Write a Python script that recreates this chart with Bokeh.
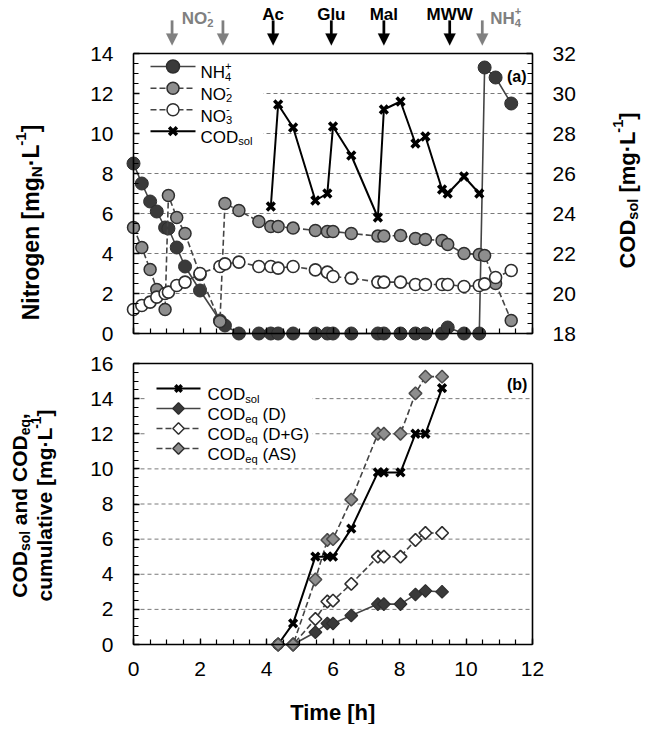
import math
from bokeh.plotting import figure
from bokeh.models import (Range1d, LinearAxis, SingleIntervalTicker, FixedTicker, Label,
                          PolyAnnotation, BoxAnnotation)
from bokeh.layouts import column
from bokeh.embed import file_html
from bokeh.resources import INLINE

FONT = "Liberation Sans"

# ---------------- data: panel (a) ----------------
t_n = [0, 0.25, 0.5, 0.7, 0.95, 1.05, 1.3, 1.55, 2.0, 2.6, 2.75, 3.17, 3.77, 4.13, 4.35, 4.8,
       5.47, 5.83, 6.0, 6.55, 7.35, 7.53, 8.03, 8.48, 8.78, 9.28, 9.45, 9.94, 10.4, 10.56,
       10.89, 11.36]
nh4 = [8.5, 7.5, 6.6, 6.1, 5.3, 5.25, 4.3, 3.35, 2.15, 0.65, 0.4, 0, 0, 0, 0, 0,
       0, 0, 0, 0, 0, 0, 0, 0, 0, 0, 0.3, 0, 0, 13.3, 12.8, 11.5]
no2 = [5.3, 4.3, 3.2, 2.2, 1.2, 6.9, 5.8, 5.0, 2.95, 0.6, 6.5, 6.15, 5.6, 5.35, 5.35, 5.27,
       5.15, 5.1, 5.1, 5.0, 4.87, 4.87, 4.9, 4.75, 4.7, 4.65, 4.45, 4.0, 3.95, 3.9, 2.5, 0.65]
no3 = [1.2, 1.4, 1.57, 1.82, 2.0, 2.07, 2.4, 2.57, 3.0, 3.35, 3.48, 3.57, 3.35, 3.35, 3.27, 3.35,
       3.18, 3.07, 2.85, 2.77, 2.57, 2.57, 2.57, 2.45, 2.45, 2.45, 2.45, 2.35, 2.4, 2.48, 2.8, 3.15]
t_cod = [4.13, 4.35, 4.8, 5.47, 5.83, 6.0, 6.55, 7.35, 7.53, 8.03, 8.48, 8.78, 9.28, 9.45, 9.94, 10.4]
cod_sol = [24.35, 29.45, 28.3, 24.65, 25.0, 28.35, 26.9, 23.8, 29.2, 29.6, 27.5, 27.85,
           25.2, 25.0, 25.85, 25.0]

# events marked above panel (a)
nitrite_spikes = [1.16, 2.69]
substrate_t = [4.2, 5.95, 7.53, 9.51]
substrate_names = ["Ac", "Glu", "Mal", "MWW"]
ammonium_spike = [10.49]

# ---------------- data: panel (b) ----------------
t_cum = [4.35, 4.8, 5.47, 5.83, 6.0, 6.55, 7.35, 7.53, 8.03, 8.48, 8.78, 9.28]
cum_sol = [0, 1.2, 5.0, 5.0, 5.0, 6.6, 9.8, 9.8, 9.8, 12.0, 12.0, 14.6]
cum_d = [0, 0, 0.7, 1.2, 1.2, 1.65, 2.3, 2.3, 2.3, 2.85, 3.05, 3.0]
cum_dg = [0, 0, 1.45, 2.45, 2.5, 3.45, 5.0, 5.0, 5.0, 5.95, 6.35, 6.35]
cum_as = [0, 0, 3.7, 5.95, 6.0, 8.25, 12.0, 12.0, 12.0, 14.3, 15.25, 15.25]

x_lim = (0, 12)
n_lim_a = (0, 14)
cod_lim_a = (18, 32)
cum_lim_b = (0, 16)
grid_a = [2, 4, 6, 8, 10, 12]
grid_b = [2, 4, 6, 8, 10, 12, 14]

# ---------------- styles / layout constants ----------------
DARK = "#3a3a3a"
MID = "#8e8e8e"
EDGE = "#2e2e2e"
GRAYTXT = "#808080"
W = 645
H1, H2 = 348, 376
FL, FR = 133, 532            # frame left / right (px)
A_TOP, A_BOT = 53, 333       # panel (a) frame, canvas px
B_TOP, B_BOT = 15, 296       # panel (b) frame, canvas px
SX = (FR - FL) / 12.0
SYA = (A_BOT - A_TOP) / 14.0
SYB = (B_BOT - B_TOP) / 16.0

WR = {' ': 278, '(': 333, ')': 333, '+': 584, ',': 278, '-': 333, '.': 278, '\u00b7': 278,
      '[': 278, ']': 278, 'A': 667, 'C': 722, 'D': 722, 'G': 778, 'H': 722, 'L': 556,
      'M': 833, 'N': 722, 'O': 778, 'S': 667, 'T': 611, 'W': 944, 'a': 556, 'c': 500,
      'd': 556, 'e': 556, 'g': 556, 'h': 556, 'i': 222, 'l': 222, 'm': 833, 'n': 556,
      'o': 556, 'q': 556, 'r': 333, 's': 500, 't': 278, 'u': 556, 'v': 500}
WB = {' ': 278, '(': 333, ')': 333, '+': 584, ',': 278, '-': 333, '.': 278, '\u00b7': 278,
      '[': 333, ']': 333, 'A': 722, 'C': 722, 'D': 722, 'G': 778, 'H': 722, 'L': 611,
      'M': 833, 'N': 722, 'O': 778, 'S': 667, 'T': 611, 'W': 944, 'a': 556, 'c': 556,
      'd': 611, 'e': 556, 'g': 611, 'h': 611, 'i': 278, 'l': 278, 'm': 889, 'n': 611,
      'o': 611, 'q': 611, 'r': 389, 's': 556, 't': 333, 'u': 611, 'v': 556}


def conv_top(cx, cy):
    return (cx - FL) / SX, (A_BOT - cy) / SYA


def conv_bot(cx, cy):
    return (cx - FL) / SX, (B_BOT - cy) / SYB


def rich(fig, segs, cx, cy, size, bold=False, color="black", rotate=False, align="left"):
    """Place text pieces (normal / sub / sup) at canvas pixel positions."""
    table = WB if bold else WR
    small = size * 0.66

    def w(t, s):
        return sum(table.get(c, 556) for c in t) / 1000.0 * s

    items = []
    pos = 0.0
    for seg in segs:
        kind = seg[0]
        if kind == "n":
            txt = seg[1]
            lead = len(txt) - len(txt.lstrip(" "))
            pos += w(" " * lead, size)
            txt = txt.lstrip(" ")
            items.append((txt, size, pos, 0.0))
            pos += w(txt, size)
        elif kind == "sub":
            items.append((seg[1], small, pos, 0.24 * size))
            pos += w(seg[1], small)
        elif kind == "sup":
            items.append((seg[1], small, pos, -0.42 * size))
            pos += w(seg[1], small)
        elif kind == "stack":
            items.append((seg[1], small, pos, 0.24 * size))
            items.append((seg[2], small, pos, -0.42 * size))
            pos += max(w(seg[1], small), w(seg[2], small))
    total = pos
    shift = 0.0 if align == "left" else (-total / 2 if align == "center" else -total)
    for text, fs, along, perp in items:
        a = along + shift
        if rotate:
            px, py = cx + perp, cy - a
        else:
            px, py = cx + a, cy + perp
        fig.add_layout(Label(x=px, y=py, x_units="canvas", y_units="canvas", text=text,
                             angle=(math.pi / 2 if rotate else 0.0),
                             text_font=FONT, text_font_size="%.1fpx" % fs,
                             text_font_style="bold" if bold else "normal",
                             text_color=color, text_align="left",
                             text_baseline="alphabetic"))


def style_axis(ax, standoff, ticks=True):
    ax.axis_line_width = 1.6
    ax.axis_line_color = "black"
    ax.major_tick_in = 6 if ticks else 0
    ax.major_tick_out = 0
    ax.minor_tick_in = 5 if ticks else 0
    ax.minor_tick_out = 0
    ax.major_tick_line_width = 1.3
    ax.minor_tick_line_width = 1.2
    ax.major_tick_line_color = "black"
    ax.minor_tick_line_color = "black"
    ax.major_label_text_font = FONT
    ax.major_label_text_font_size = "21px"
    ax.major_label_text_color = "black"
    ax.major_label_standoff = standoff


def make_fig(h, y_bot_px, sy):
    xr = Range1d(-FL / SX, (W - FL) / SX)
    yr = Range1d(-(h - y_bot_px) / sy, y_bot_px / sy)
    p = figure(frame_width=W, frame_height=h, min_border=0, x_range=xr, y_range=yr,
               x_axis_type=None, y_axis_type=None, output_backend="svg",
               toolbar_location=None)
    p.outline_line_color = None
    p.background_fill_color = "white"
    p.border_fill_color = "white"
    return p


def tick_axis(fixed, bounds, labels=True, ticks=True, range_name="default", standoff=20):
    if ticks:
        tk = SingleIntervalTicker(interval=2, num_minor_ticks=4)
    else:
        tk = FixedTicker(ticks=[], minor_ticks=[])
    if range_name != "default":
        ax = LinearAxis(fixed_location=fixed, bounds=bounds, ticker=tk, y_range_name=range_name)
    else:
        ax = LinearAxis(fixed_location=fixed, bounds=bounds, ticker=tk)
    style_axis(ax, standoff, ticks)
    if not labels:
        ax.major_label_overrides = {v: "" for v in range(-2, 40, 2)}
    return ax


# ================= panel (a) =================
p1 = make_fig(H1, A_BOT, SYA)
p1.extra_y_ranges = {"cod": Range1d(p1.y_range.start + 18, p1.y_range.end + 18)}

p1.segment(x0=[x_lim[0]] * len(grid_a), x1=[x_lim[1]] * len(grid_a), y0=grid_a, y1=grid_a,
           line_color="#7a7a7a", line_dash="4 3", line_width=1, level="image")

lx0, ly0 = conv_top(FL, A_TOP)
lx1, ly1 = conv_top(263, 145)
p1.add_layout(BoxAnnotation(left=lx0, right=lx1, top=ly0, bottom=ly1, fill_color="white",
                            fill_alpha=1.0, line_alpha=0, level="underlay"))

p1.add_layout(tick_axis(x_lim[0], n_lim_a, standoff=20), "left")
p1.add_layout(tick_axis(x_lim[1], cod_lim_a, range_name="cod", standoff=20), "right")
p1.add_layout(tick_axis(n_lim_a[0], x_lim, labels=False), "below")
p1.add_layout(tick_axis(n_lim_a[1], x_lim, labels=False, ticks=False), "above")

p1.line(t_n, nh4, line_color="#444444", line_width=1.6)
p1.scatter(t_n, nh4, marker="circle", size=13, fill_color=DARK, line_color=EDGE, line_width=1)
p1.line(t_n, no2, line_color="#444444", line_width=1.6, line_dash="6 3")
p1.scatter(t_n, no2, marker="circle", size=12, fill_color=MID, line_color=EDGE, line_width=1.5)
p1.line(t_n, no3, line_color="#444444", line_width=1.6, line_dash="6 3")
p1.scatter(t_n, no3, marker="circle", size=12, fill_color="white", line_color=EDGE, line_width=1.6)
p1.line(t_cod, cod_sol, line_color="black", line_width=2, y_range_name="cod")
p1.scatter(t_cod, cod_sol, marker="x", size=11, line_color="black", line_width=3.5,
           y_range_name="cod")

# manual legend (a)
leg_a = [
    ([("n", "NH"), ("stack", "4", "+")], dict(dash="solid", marker="circle", fill=DARK, size=13)),
    ([("n", "NO"), ("stack", "2", "-")], dict(dash="6 3", marker="circle", fill=MID, size=12)),
    ([("n", "NO"), ("stack", "3", "-")], dict(dash="6 3", marker="circle", fill="white", size=12)),
    ([("n", "COD"), ("sub", "sol")], dict(dash="solid", marker="x", fill="black", size=11)),
]
rows_a = [66, 87.7, 109.3, 130.7]
for (segs, st), cy in zip(leg_a, rows_a):
    xa, ya = conv_top(150, cy)
    xb, _ = conv_top(195, cy)
    xm, _ = conv_top(172.5, cy)
    col = "black" if st["marker"] == "x" else "#444444"
    p1.line([xa, xb], [ya, ya], line_color=col, line_width=2 if st["marker"] == "x" else 1.6,
            line_dash=st["dash"])
    if st["marker"] == "x":
        p1.scatter([xm], [ya], marker="x", size=st["size"], line_color="black", line_width=3.5)
    else:
        p1.scatter([xm], [ya], marker="circle", size=st["size"], fill_color=st["fill"],
                   line_color=EDGE, line_width=1.5)
    rich(p1, segs, 200, cy + 6.2, 17)

rich(p1, [("n", "(a)")], 526, 76, 16, bold=True, align="right")


# event arrows above panel (a)
def arrow_poly(fig, cx, colr, top=20, tip=45, head_h=12, head_w=12, shaft=2.6):
    base = tip - head_h
    xs = [cx - shaft / 2, cx + shaft / 2, cx + shaft / 2, cx + head_w / 2, cx,
          cx - head_w / 2, cx - shaft / 2]
    ys = [top, top, base, base, tip, base, base]
    fig.add_layout(PolyAnnotation(xs=xs, ys=ys, xs_units="canvas", ys_units="canvas",
                                  fill_color=colr, fill_alpha=1.0, line_color=colr,
                                  line_width=0.5))


for xs_, colr in ([(x, GRAYTXT) for x in nitrite_spikes] + [(x, "black") for x in substrate_t]
                  + [(x, GRAYTXT) for x in ammonium_spike]):
    arrow_poly(p1, FL + xs_ * SX, colr)
for xs_, name in zip(substrate_t, substrate_names):
    rich(p1, [("n", name)], FL + xs_ * SX, 14, 17, bold=True, align="center")
cx_no2 = FL + (nitrite_spikes[0] + nitrite_spikes[1]) / 2 * SX
rich(p1, [("n", "NO"), ("stack", "2", "-")], cx_no2, 18, 17, bold=True,
     color=GRAYTXT, align="center")
cx_nh4 = FL + ammonium_spike[0] * SX + 8
rich(p1, [("n", "NH"), ("stack", "4", "+")], cx_nh4, 18, 17, bold=True,
     color=GRAYTXT, align="left")

# axis titles (a)
rich(p1, [("n", "Nitrogen [mg"), ("sub", "N"), ("n", "\u00b7L"), ("sup", "-1"),
          ("n", "]")], 30, 222, 23, bold=True, rotate=True, align="center")
rich(p1, [("n", "COD"), ("sub", "sol"), ("n", " [mg\u00b7L"), ("sup", "-1"),
          ("n", "]")], 627, 190, 22, bold=True, rotate=True, align="center")

# ================= panel (b) =================
p2 = make_fig(H2, B_BOT, SYB)

p2.segment(x0=[x_lim[0]] * len(grid_b), x1=[x_lim[1]] * len(grid_b), y0=grid_b, y1=grid_b,
           line_color="#7a7a7a", line_dash="4 3", line_width=1, level="image")

bx0, by0 = conv_bot(145, 27)
bx1, by1 = conv_bot(312, 112)
p2.add_layout(BoxAnnotation(left=bx0, right=bx1, top=by0, bottom=by1, fill_color="white",
                            fill_alpha=1.0, line_alpha=0, level="underlay"))

p2.add_layout(tick_axis(x_lim[0], cum_lim_b, standoff=20), "left")
p2.add_layout(tick_axis(x_lim[1], cum_lim_b, labels=False, ticks=False), "right")
p2.add_layout(tick_axis(cum_lim_b[0], x_lim, standoff=17), "below")
p2.add_layout(tick_axis(cum_lim_b[1], x_lim, labels=False, ticks=False), "above")

DIAM = dict(marker="square", angle=math.pi / 4, size=9)
p2.line(t_cum, cum_as, line_color="#444444", line_width=1.6, line_dash="6 3")
p2.line(t_cum, cum_dg, line_color="#444444", line_width=1.6, line_dash="6 3")
p2.line(t_cum, cum_d, line_color="#444444", line_width=1.6)
p2.line(t_cum, cum_sol, line_color="black", line_width=2)
p2.scatter(t_cum, cum_sol, marker="x", size=11, line_color="black", line_width=3.5)
p2.scatter(t_cum, cum_d, fill_color=DARK, line_color=EDGE, line_width=1.2, **DIAM)
p2.scatter(t_cum, cum_dg, fill_color="white", line_color=EDGE, line_width=1.6, **DIAM)
p2.scatter(t_cum, cum_as, fill_color=MID, line_color="#4a4a4a", line_width=1.5, **DIAM)

leg_b = [
    ([("n", "COD"), ("sub", "sol")], dict(dash="solid", fill=None)),
    ([("n", "COD"), ("sub", "eq"), ("n", " (D)")], dict(dash="solid", fill=DARK)),
    ([("n", "COD"), ("sub", "eq"), ("n", " (D+G)")], dict(dash="6 3", fill="white")),
    ([("n", "COD"), ("sub", "eq"), ("n", " (AS)")], dict(dash="6 3", fill=MID)),
]
rows_b = [40, 60, 80, 100]
for (segs, st), cy in zip(leg_b, rows_b):
    xa, ya = conv_bot(156, cy)
    xb, _ = conv_bot(200, cy)
    xm, _ = conv_bot(178, cy)
    if st["fill"] is None:
        p2.line([xa, xb], [ya, ya], line_color="black", line_width=2)
        p2.scatter([xm], [ya], marker="x", size=9, line_color="black", line_width=3.5)
    else:
        p2.line([xa, xb], [ya, ya], line_color="#444444", line_width=1.6, line_dash=st["dash"])
        p2.scatter([xm], [ya], fill_color=st["fill"], line_color=EDGE, line_width=1.5,
                   marker="square", angle=math.pi / 4, size=8)
    rich(p2, segs, 207, cy + 6.2, 17)

rich(p2, [("n", "(b)")], 526, 36, 16, bold=True, align="right")

rich(p2, [("n", "COD"), ("sub", "sol"), ("n", " and COD"), ("sub", "eq"),
          ("n", ",")], 19, 157, 21, bold=True, rotate=True, align="center")
rich(p2, [("n", "cumulative [mg\u00b7L"), ("sup", "-1"), ("n", "]")], 44, 157, 21,
     bold=True, rotate=True, align="center")
rich(p2, [("n", "Time [h]")], (FL + FR) / 2.0, 364, 22, bold=True, align="center")

layout = column(p1, p2)
open("out.html", "w").write(file_html(layout, INLINE))
